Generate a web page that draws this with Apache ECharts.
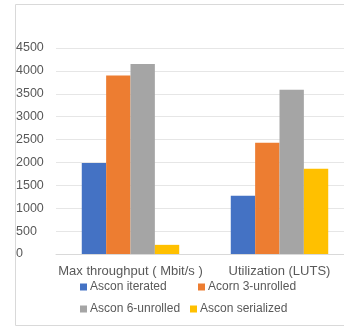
<!DOCTYPE html>
<html>
<head>
<meta charset="utf-8">
<script src="https://cdn.jsdelivr.net/npm/echarts@6/dist/echarts.min.js"></script>
<style>
  html, body { margin: 0; padding: 0; background: #fff; overflow: hidden; width: 344px; height: 328px; }
  #chart { width: 372px; height: 328px; }
</style>
</head>
<body>
<div id="chart"></div>
<script>
// Metric groups along the x axis
const categories = ['Max throughput ( Mbit/s )', 'Utilization (LUTS)'];

// One array per design variant
const asconIterated   = [1990, 1270];
const acorn3Unrolled  = [3900, 2430];
const ascon6Unrolled  = [4150, 3590];
const asconSerialized = [200, 1860];

const seriesNames = ['Ascon iterated', 'Acorn 3-unrolled', 'Ascon 6-unrolled', 'Ascon serialized'];
const seriesData = [asconIterated, acorn3Unrolled, ascon6Unrolled, asconSerialized];
const colors = ['#4472C4', '#ED7D31', '#A5A5A5', '#FFC000'];

const yTicks = { min: 0, max: 4500, interval: 500 };

const font = 'Liberation Sans, Arial, sans-serif';
const textColor = '#595959';

const chart = echarts.init(document.getElementById('chart'), null, { renderer: 'canvas' });

// Legend entries laid out in two rows
const legendPos = [
  { left: 80, top: 281 },
  { left: 198, top: 281 },
  { left: 80, top: 303 },
  { left: 190, top: 303 }
];

chart.setOption({
  animation: false,
  color: colors,
  graphic: [{
    type: 'rect',
    shape: { x: 15.5, y: 4.5, width: 345, height: 321 },
    style: { fill: 'none', stroke: '#D9D9D9', lineWidth: 1 },
    z: -1
  }],
  grid: { left: 56, right: 18, top: 48, bottom: 74 },
  legend: seriesNames.map((name, i) => ({
    data: [name],
    left: legendPos[i].left,
    top: legendPos[i].top,
    icon: 'rect',
    itemWidth: 7,
    itemHeight: 7,
    itemGap: 0,
    textStyle: { color: textColor, fontSize: 12, fontFamily: font, padding: [0, 0, 0, -2] },
    padding: 0
  })),
  xAxis: {
    type: 'category',
    data: categories,
    axisLine: { lineStyle: { color: '#D9D9D9' } },
    axisTick: { show: false },
    axisLabel: { color: textColor, fontSize: 13, fontFamily: font, margin: 11, interval: 0, hideOverlap: false }
  },
  yAxis: {
    type: 'value',
    min: yTicks.min,
    max: yTicks.max,
    interval: yTicks.interval,
    axisLine: { show: false },
    axisTick: { show: false },
    splitLine: { lineStyle: { color: '#E6E6E6' } },
    axisLabel: { color: textColor, fontSize: 12.5, fontFamily: font, align: 'left', margin: 40, formatter: v => String(v) }
  },
  series: seriesNames.map((name, i) => ({
    name,
    type: 'bar',
    data: seriesData[i],
    barGap: '0%',
    barCategoryGap: '34.6%'
  }))
});
</script>
</body>
</html>
